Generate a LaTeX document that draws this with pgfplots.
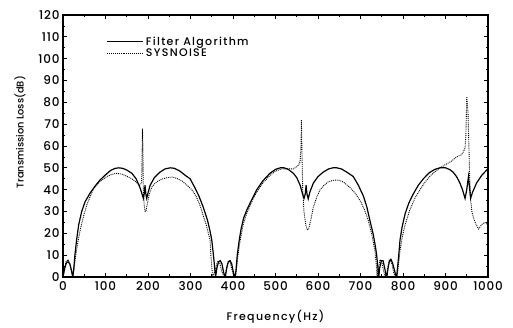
\documentclass[border=0pt]{standalone}
\usepackage{fontspec}
\setmainfont{Poppins Medium}
\newfontfamily\widefont[LetterSpace=12]{Poppins Medium}
\newfontfamily\tickfont[LetterSpace=6]{Poppins Medium}
\usepackage{pgfplots}
\pgfplotsset{compat=1.18}
\begin{document}
\begin{tikzpicture}
\begin{axis}[
  scale only axis,
  width=425pt, height=262pt,
  xmin=0, xmax=1000, ymin=0, ymax=120,
  xtick={0,100,...,1000}, ytick={0,10,...,120},
  minor x tick num=1, minor y tick num=1,
  tick align=inside,
  major tick length=4pt, minor tick length=2.5pt,
  tick style={black, line width=0.8pt},
  axis line style={line width=1.1pt},
  /pgf/number format/assume math mode=true,
  /pgf/number format/1000 sep={},
  ticklabel style={font=\tickfont\fontsize{12}{13}\selectfont},
  xticklabel style={yshift=-1.5pt},
  xlabel={Frequency(Hz)},
  ylabel={Transmission Loss(dB)},
  xlabel style={font=\widefont\fontsize{11}{12}\selectfont, at={(axis description cs:0.5,-0.152)}, anchor=center},
  ylabel style={font=\fontsize{9.8}{11}\selectfont, at={(axis description cs:-0.101,0.553)}, anchor=center},
  legend style={draw=none, fill=none, at={(0.1,0.93)}, anchor=north west,
    font=\widefont\fontsize{11}{12}\selectfont, row sep=-2pt, inner sep=1pt},
  legend cell align=left,
  legend image code/.code={\draw[#1] (0pt,0pt) -- (36pt,0pt);},
]
\addplot[black, line width=1.2pt] coordinates {
(0,0) (4,4) (8,6.5) (12,7) (16,6) (20,3) (23,0)
(25,3) (28,10) (32,17) (37,24) (44,30) (52,34.5) (64,38.5) (75,41.5) (87,44.4)
(100,46.8) (112,48.8) (122,49.7) (130,50) (140,49.8) (150,49) (162,47.5) (172,45)
(181,41) (186,38) (189,36) (191,38) (193,42) (195,38) (197,36) (200,38.5) (205,42)
(215,45.5) (228,48) (240,49.5) (252,50) (262,49.8) (275,48.5) (288,46.5) (299,45)
(310,41) (320,37) (330,32) (340,26) (346,21) (350,17) (354,10) (357,4) (359,0)
(362,4) (366,7) (370,7.5) (374,6) (378,2) (382,0)
(385,4) (389,7) (393,7.5) (397,6) (401,2) (404,0)
(405,0) (407,3) (410,10) (414,16) (419,22) (425,27) (432,30.5) (443,35) (456,40)
(470,44) (487,47.5) (500,49.3) (511,50) (520,50) (530,49.3) (542,47.5) (550,45.5)
(558,42) (563,38.5) (567,36) (570,38) (572,42) (574,38) (577,35.8) (581,39) (589,43)
(600,46) (612,48) (625,49.5) (635,50) (644,50) (655,49.5) (668,48) (683,46)
(695,42) (707,37) (715,32) (722,26) (730,19.5) (735,14) (738,10) (740,6) (742,2) (743,0)
(745,4) (749,7.5) (753,7.5) (757,4) (760,1) (762,0)
(764,3) (768,7.5) (772,8) (776,6) (780,3) (784,0)
(785,0) (787,4) (790,10) (793,17) (798,23) (805,29) (814,34) (824,38) (836,42)
(848,45) (862,47.8) (875,49.3) (887,50) (900,50) (910,49.2) (918,48) (926,46)
(934,43) (940,40) (946,36) (950,40) (954,46) (957,40) (959,36) (964,39) (973,43)
(985,46.5) (997,49) (1000,49.5)
};
\addlegendentry{Filter Algorithm}
\addplot[black, densely dotted, line width=0.9pt] coordinates {
(0,0) (3,3) (7,7) (12,8) (16,6) (20,2.5) (23,0)
(26,4) (30,10) (35,16) (41,22) (48,27.6) (56,33) (64,37) (71,40) (80,42.5)
(92,44.5) (103,46) (115,47) (126,47.5) (140,47) (152,46) (162,45) (172,43.5)
(180,42) (185,43) (186,55) (187,68) (188,60) (189,40) (191,33) (193,30) (195,30)
(198,33) (203,38) (210,41.5) (220,43.5) (232,44.8) (245,45.5) (257,45.8) (267,45.2)
(280,44) (292,42) (303,40) (313,37) (322,33) (330,28) (337,24) (342,20) (346,17)
(348,10) (350,5) (352,0)
(358,3) (363,7) (368,7) (373,3) (378,0.5) (381,0)
(385,4) (389,7) (393,7) (398,3) (402,0)
(406,0) (409,5) (413,12) (418,18) (424,24) (432,29) (443,34) (456,39) (470,43)
(487,46.5) (500,48.5) (515,49.5) (530,49.5) (542,49.5) (550,50.5) (555,51.5)
(558,53) (560,60) (561,72) (562,60) (564,40) (567,30) (571,24) (575,21.5) (578,22)
(583,26) (589,32) (597,36.5) (605,40) (614,42) (624,43.6) (636,44.3) (648,44.4)
(660,43.5) (675,41) (687,38.5) (699,35) (709,31) (718,26) (726,20) (731,15)
(734,12) (737,6) (739,0)
(742,4) (746,8) (750,7) (754,3) (758,0)
(762,2) (766,6) (770,8) (774,6) (778,2) (782,0)
(786,0) (789,5) (793,12) (798,18) (805,24) (816,30.7) (828,36) (840,40) (852,43.5)
(865,46.5) (877,48.5) (887,50) (900,51.5) (912,52.8) (926,55) (938,56) (942,57.4)
(946,59) (948,65) (950,82.6) (953,75) (955,60) (957,45) (959,36) (962,30) (966,27)
(972,24) (978,22) (985,24) (992,25) (1000,24)
};
\addlegendentry{SYSNOISE}
\end{axis}
\pgfresetboundingbox
\useasboundingbox (-63pt,-51pt) rectangle (450pt,277pt);
\end{tikzpicture}
\end{document}
